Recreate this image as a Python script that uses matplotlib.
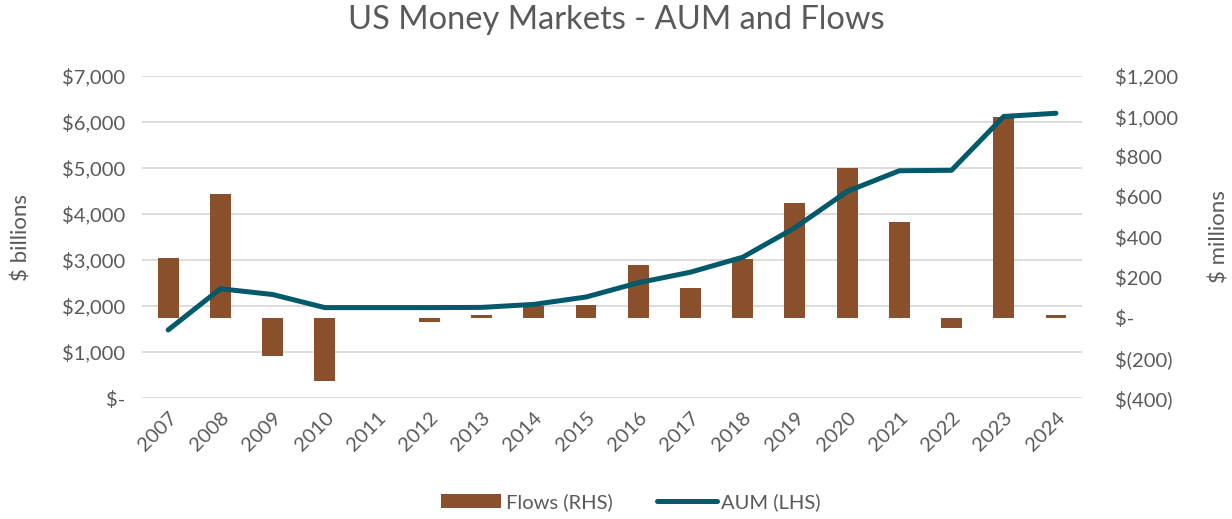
"""US Money Markets - AUM and Flows: barras de fluxo (eixo direito) e linha de AUM (eixo esquerdo)."""

import matplotlib
matplotlib.use("Agg")
import matplotlib.pyplot as plt
from matplotlib.ticker import FuncFormatter, MultipleLocator
from matplotlib.transforms import blended_transform_factory

years = [str(y) for y in range(2007, 2025)]
aum = [1480, 2375, 2250, 1965, 1965, 1965, 1970, 2035, 2195,
       2505, 2735, 3060, 3700, 4490, 4940, 4950, 6120, 6190]
flows = [297, 616, -190, -316, -2, -22, 11, 57, 60,
         261, 149, 292, 570, 743, 476, -51, 994, 10]

BAR_COLOR = "#8A4F2B"
LINE_COLOR = "#005A6B"
TEXT_COLOR = "#595959"
GRID_COLOR = "#D9D9D9"

plt.rcParams["font.family"] = ["Lato", "DejaVu Sans"]


def acct(v, _pos):
    if abs(v) < 1e-9:
        return "$-"
    if v < 0:
        return f"$({abs(v):,.0f})"
    return f"${v:,.0f}"


fig = plt.figure(figsize=(12.32, 5.19), dpi=100)
ax = fig.add_axes([0.1153, 0.2331, 0.7630, 0.6205])
ax2 = ax.twinx()

x = list(range(len(years)))

# barras no eixo direito (atrás), linha no eixo esquerdo (na frente)
bars = ax2.bar(x, flows, width=0.4, color=BAR_COLOR, label="Flows (RHS)", zorder=2)
ax2.set_ylim(-400, 1200)
ax2.yaxis.set_major_locator(MultipleLocator(200))

ax.set_zorder(ax2.get_zorder() + 1)
ax.patch.set_visible(False)
line, = ax.plot(x, aum, color=LINE_COLOR, lw=3.6, solid_capstyle="round",
                solid_joinstyle="round", label="AUM (LHS)")
ax.set_ylim(0, 7000)
ax.yaxis.set_major_locator(MultipleLocator(1000))
ax.set_xlim(-0.5, len(years) - 0.5)

# grade do eixo esquerdo desenhada atrás das barras
trans = blended_transform_factory(ax2.transAxes, ax.transData)
for v in range(0, 7001, 1000):
    ax2.plot([0, 1], [v, v], transform=trans, color=GRID_COLOR, lw=1.3, zorder=0)

for a in (ax, ax2):
    for s in a.spines.values():
        s.set_visible(False)
    a.tick_params(axis="both", length=0, labelsize=14.5, labelcolor=TEXT_COLOR)
    a.yaxis.set_major_formatter(FuncFormatter(acct))

ax.tick_params(axis="y", pad=12)
ax2.tick_params(axis="y", pad=24)
ax.set_xticks(x)
ax.set_xticklabels(years, rotation=45, ha="right", rotation_mode="anchor")
ax.tick_params(axis="x", pad=8)

ax.set_ylabel("$ billions", fontsize=16, color=TEXT_COLOR, labelpad=22)
ax2.set_ylabel("$ millions", fontsize=16, color=TEXT_COLOR, labelpad=22)

fig.suptitle("US Money Markets - AUM and Flows", fontsize=23.5, color=TEXT_COLOR, y=0.99)

fig.legend([bars, line], ["Flows (RHS)", "AUM (LHS)"], loc="center",
           bbox_to_anchor=(0.512, 0.033), ncol=2, frameon=False, fontsize=14.5,
           labelcolor=TEXT_COLOR, handlelength=3.0, handletextpad=0.2, columnspacing=2.2)

fig.savefig("out.png", dpi=100)
